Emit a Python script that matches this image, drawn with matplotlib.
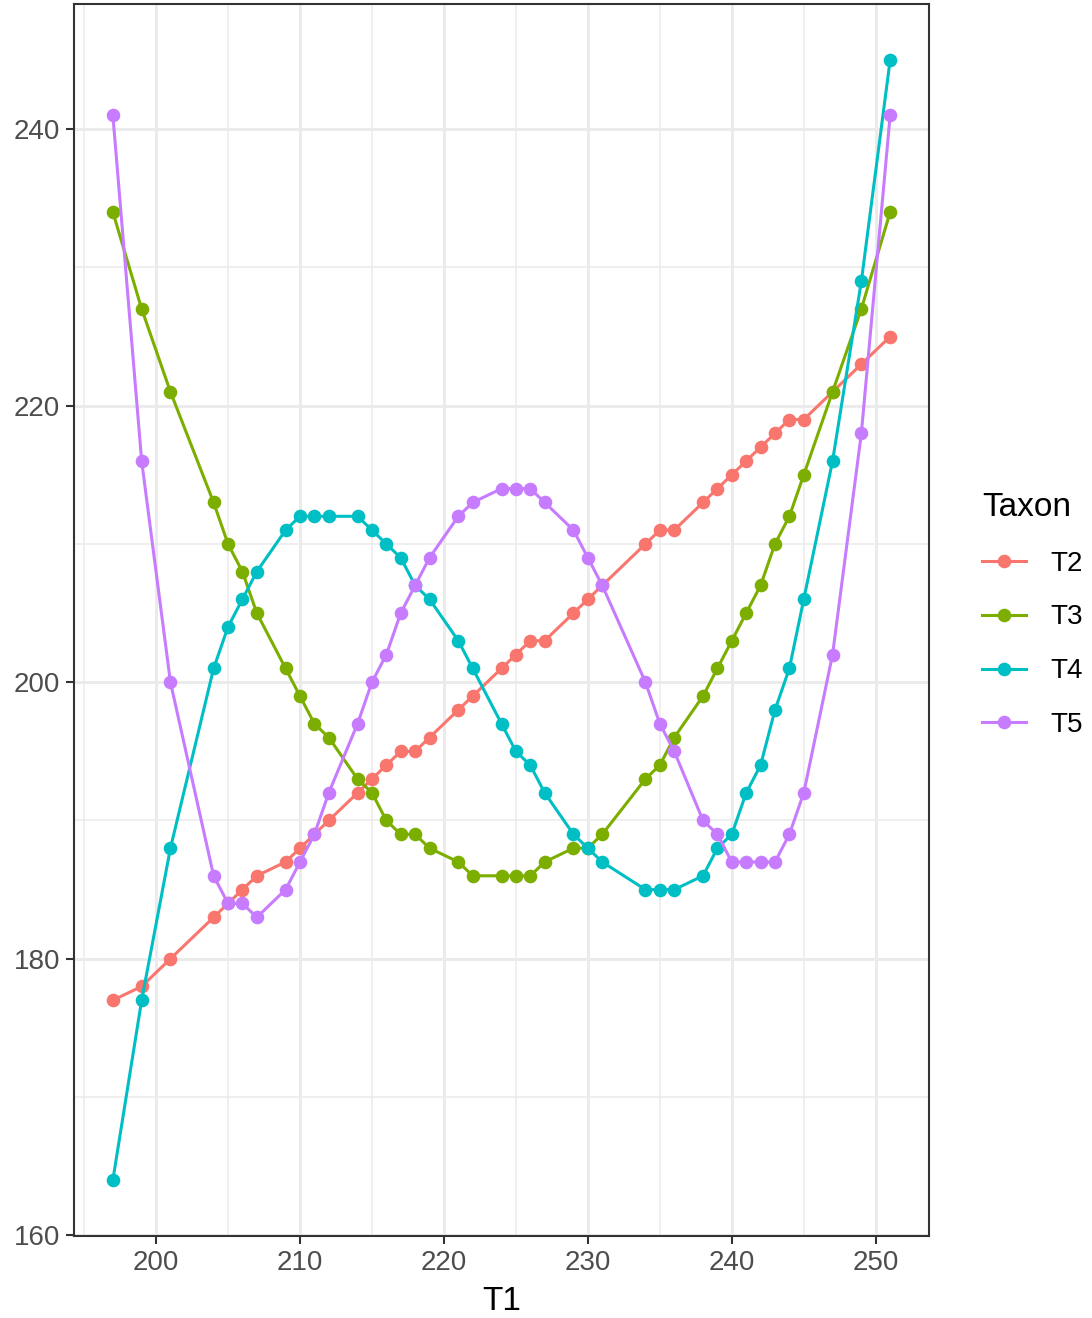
import matplotlib
matplotlib.use("Agg")
import matplotlib.pyplot as plt
from matplotlib.lines import Line2D

plt.rcParams["font.family"] = ["Liberation Sans", "DejaVu Sans"]

# T1 positions shared by every taxon
t1 = [197, 199, 201, 204, 205, 206, 207, 209, 210, 211, 212, 214, 215, 216,
      217, 218, 219, 221, 222, 224, 225, 226, 227, 229, 230, 231, 234, 235,
      236, 238, 239, 240, 241, 242, 243, 244, 245, 247, 249, 251]

t2 = [177, 178, 180, 183, 184, 185, 186, 187, 188, 189, 190, 192, 193, 194,
      195, 195, 196, 198, 199, 201, 202, 203, 203, 205, 206, 207, 210, 211,
      211, 213, 214, 215, 216, 217, 218, 219, 219, 221, 223, 225]

t3 = [234, 227, 221, 213, 210, 208, 205, 201, 199, 197, 196, 193, 192, 190,
      189, 189, 188, 187, 186, 186, 186, 186, 187, 188, 188, 189, 193, 194,
      196, 199, 201, 203, 205, 207, 210, 212, 215, 221, 227, 234]

t4 = [164, 177, 188, 201, 204, 206, 208, 211, 212, 212, 212, 212, 211, 210,
      209, 207, 206, 203, 201, 197, 195, 194, 192, 189, 188, 187, 185, 185,
      185, 186, 188, 189, 192, 194, 198, 201, 206, 216, 229, 245]

t5 = [241, 216, 200, 186, 184, 184, 183, 185, 187, 189, 192, 197, 200, 202,
      205, 207, 209, 212, 213, 214, 214, 214, 213, 211, 209, 207, 200, 197,
      195, 190, 189, 187, 187, 187, 187, 189, 192, 202, 218, 241]

taxa = ["T2", "T3", "T4", "T5"]
series = [t2, t3, t4, t5]
colors = ["#F8766D", "#7CAE00", "#00BFC4", "#C77CFF"]

x_major = [200, 210, 220, 230, 240, 250]
x_minor = [195, 205, 215, 225, 235, 245]
y_major = [160, 180, 200, 220, 240]
y_minor = [170, 190, 210, 230]

W, H = 1092, 1318
fig = plt.figure(figsize=(W / 100, H / 100), dpi=100)
ax = fig.add_axes([74 / W, (H - 1236) / H, (929 - 74) / W, (1236 - 4) / H])

for name, ys, col in zip(taxa, series, colors):
    ax.plot(t1, ys, color=col, lw=2.2, marker="o", ms=9.8,
            markeredgewidth=0, label=name, zorder=3, solid_capstyle="butt")

# ggplot-style expanded limits
xr = max(t1) - min(t1)
all_y = t2 + t3 + t4 + t5
yr = max(all_y) - min(all_y)
ax.set_xlim(min(t1) - 0.05 * xr, max(t1) + 0.05 * xr)
ax.set_ylim(min(all_y) - 0.05 * yr, max(all_y) + 0.05 * yr)

ax.set_xticks(x_major)
ax.set_xticks(x_minor, minor=True)
ax.set_yticks(y_major)
ax.set_yticks(y_minor, minor=True)

ax.grid(which="major", color="#EBEBEB", lw=2.1, zorder=0)
ax.grid(which="minor", color="#EBEBEB", lw=1.1, zorder=0)
ax.set_axisbelow(True)

for s in ax.spines.values():
    s.set_color("#333333")
    s.set_linewidth(1.5)

ax.tick_params(which="major", length=6, width=1.5, color="#333333",
               labelsize=20, labelcolor="#4D4D4D", pad=4)
ax.tick_params(which="minor", length=0)

ax.set_xlabel("T1", fontsize=24, color="black", labelpad=7)

handles = [Line2D([0], [0], color=c, lw=2.2, marker="o", ms=9.8,
                  markeredgewidth=0) for c in colors]
leg = fig.legend(handles, taxa, title="Taxon", loc="upper left",
                 bbox_to_anchor=(968 / W, 1 - 478 / H), frameon=False,
                 fontsize=20, title_fontsize=24, handlelength=1.6,
                 handletextpad=0.85, labelspacing=1.0, borderpad=0)
leg._legend_box.align = "left"

fig.savefig("out.png", dpi=100, facecolor="white")
